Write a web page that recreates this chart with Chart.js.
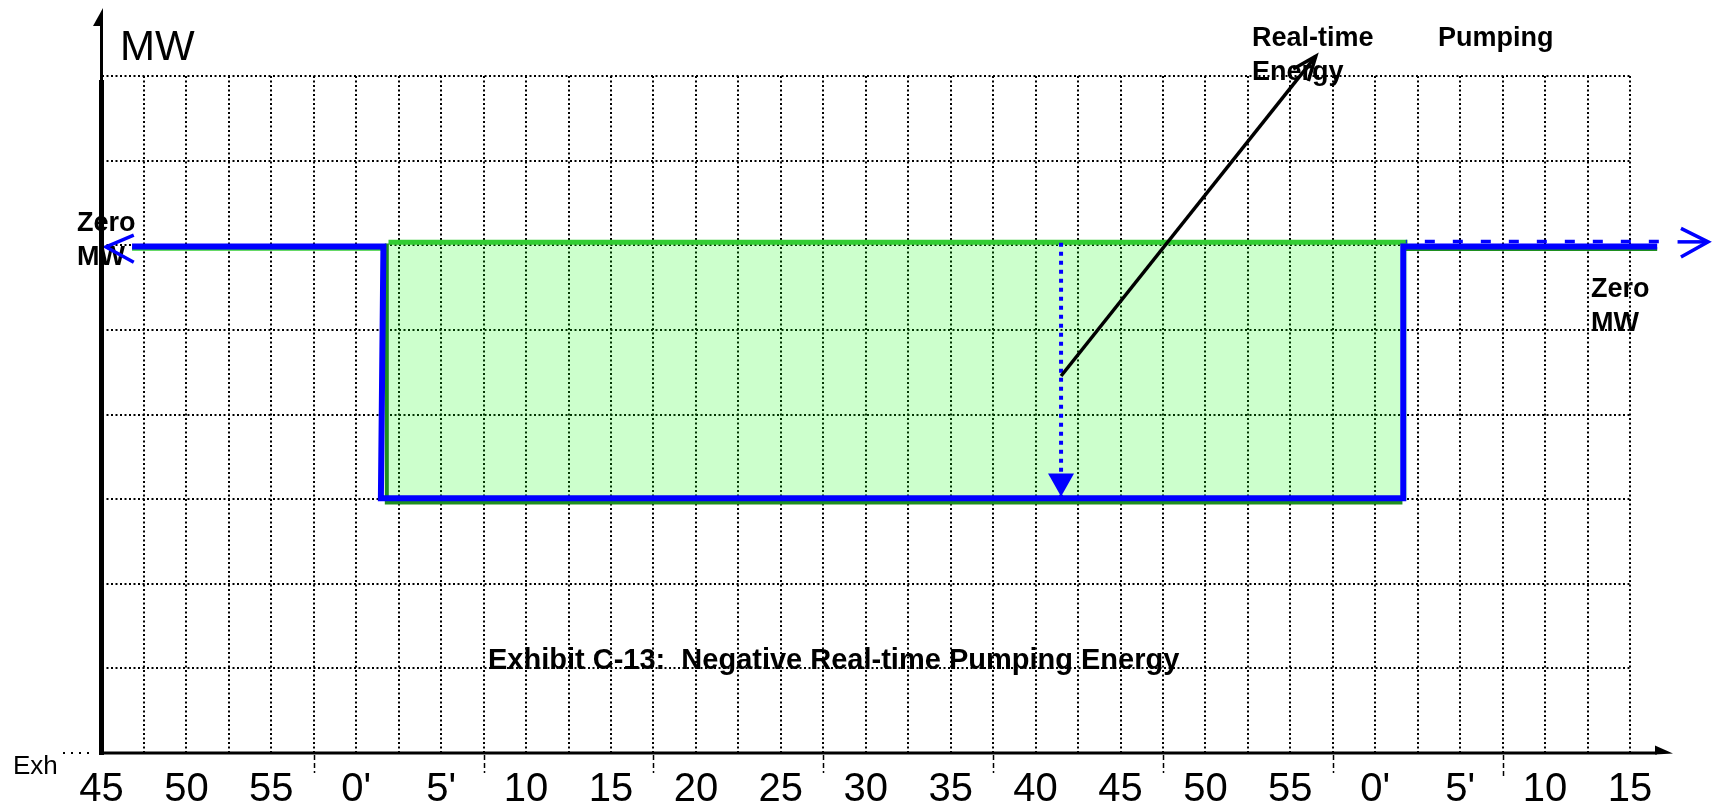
<!DOCTYPE html>
<html>
<head>
<meta charset="utf-8">
<script src="https://cdn.jsdelivr.net/npm/chart.js@4.4.1/dist/chart.umd.min.js"></script>
<style>
  html, body { margin: 0; padding: 0; background: #fff; }
  #wrap { width: 1713px; height: 809px; position: relative; }
</style>
</head>
<body>
<div id="wrap"><canvas id="myChart"></canvas></div>
<script>
// x = minutes from the first label (45), one grid column = 2.5 min
// y = MW in steps of 10 per grid row, zero MW at 0
const timeLabels = ['45', '50', '55', "0'", "5'", '10', '15', '20', '25', '30', '35', '40', '45', '50', '55', "0'", "5'", '10', '15'];
const hourTicks = [12.5, 22.5, 32.5, 42.5, 52.5, 62.5, 72.5, 82.5];

// blue MW line (zero -> pumping -> zero)
const blueX = [1.8, 16.6, 16.45, 76.65, 76.65, 91.6];
const blueY = [-0.15, -0.15, -29.9, -29.9, -0.15, -0.15];
// dashed blue continuation on the right
const blueDashX = [76.8, 92.0];
const blueDashY = [0.45, 0.45];

// green pumping block
const greenTopX = [16.9, 76.9];
const greenTopY = [0.35, 0.35];
const greenFloor = -30.2;
const greenEdgeX = [16.8, 16.8, 76.6];
const greenEdgeY = [0.2, -30.4, -30.4];
const greenLeftX = [1.8, 16.6];
const greenLeftY = [-0.4, -0.4];
const greenRightX = [76.6, 91.6];
const greenRightY = [-0.45, -0.45];

// arrows
const leftArrowX = [1.9, 0.26, 1.9];
const leftArrowY = [1.2, -0.2, -2.0];
const rightArrowX = [93.0, 94.6, 93.0];
const rightArrowY = [2.0, 0.4, -1.4];
const rightShaftX = [92.8, 94.4];
const rightShaftY = [0.4, 0.4];
const dropX = [56.5, 56.5];
const dropY = [0.3, -29.7];
const pointerX = [56.5, 71.5];
const pointerY = [-15.45, 22.35];

const BLUE = '#0000ff';
const GREEN = '#33cc33';
const DARKGREEN = '#1f8f1f';
const FONT = '"Liberation Sans", Arial, sans-serif';

function pts(xs, ys) {
  return xs.map((x, i) => ({ x: x, y: ys[i] }));
}

function lineSet(data, color, width, order, extra) {
  return Object.assign({
    data: data,
    borderColor: color,
    borderWidth: width,
    pointRadius: 0,
    tension: 0,
    fill: false,
    clip: false,
    order: order,
    borderJoinStyle: 'miter'
  }, extra || {});
}

const extras = {
  id: 'extras',
  beforeDatasetsDraw(chart) {
    const ctx = chart.ctx;
    ctx.save();
    ctx.fillStyle = '#000';
    ctx.textBaseline = 'alphabetic';
    ctx.font = '42px ' + FONT;
    ctx.fillText('MW', 120, 60);
    ctx.font = 'bold 27px ' + FONT;
    ctx.fillText('Zero', 77, 231);
    ctx.fillText('MW', 77, 265);
    ctx.fillText('Zero', 1591, 297);
    ctx.fillText('MW', 1591, 331);
    ctx.fillText('Real-time', 1252, 46);
    ctx.fillText('Energy', 1252, 80);
    ctx.fillText('Pumping', 1438, 46);
    ctx.font = 'bold 29px ' + FONT;
    ctx.fillText('Exhibit C-13:  Negative Real-time Pumping Energy', 488, 669);
    ctx.font = '26px ' + FONT;
    ctx.fillText('Exh', 13, 774);
    ctx.strokeStyle = '#000';
    ctx.lineWidth = 2;
    ctx.setLineDash([2, 6]);
    ctx.beginPath();
    ctx.moveTo(63, 753);
    ctx.lineTo(93, 753);
    ctx.stroke();
    ctx.restore();
  },
  afterDatasetsDraw(chart) {
    const ctx = chart.ctx;
    const xs = chart.scales.x, ys = chart.scales.y;

    // arrow heads at the end of flagged datasets
    chart.data.datasets.forEach((ds, i) => {
      if (!ds.arrowHead) return;
      const el = chart.getDatasetMeta(i).data;
      const p0 = el[el.length - 2], p1 = el[el.length - 1];
      const ang = Math.atan2(p1.y - p0.y, p1.x - p0.x);
      ctx.save();
      ctx.strokeStyle = ds.borderColor;
      ctx.fillStyle = ds.borderColor;
      if (ds.arrowHead === 'filled') {
        const len = 23, half = 13;
        const bx = p1.x - Math.cos(ang) * len, by = p1.y - Math.sin(ang) * len;
        ctx.beginPath();
        ctx.moveTo(p1.x, p1.y);
        ctx.lineTo(bx + Math.sin(ang) * half, by - Math.cos(ang) * half);
        ctx.lineTo(bx - Math.sin(ang) * half, by + Math.cos(ang) * half);
        ctx.closePath();
        ctx.fill();
      } else {
        const len = 26, spread = 0.38;
        ctx.lineWidth = ds.borderWidth;
        ctx.beginPath();
        ctx.moveTo(p1.x - Math.cos(ang - spread) * len, p1.y - Math.sin(ang - spread) * len);
        ctx.lineTo(p1.x, p1.y);
        ctx.lineTo(p1.x - Math.cos(ang + spread) * len, p1.y - Math.sin(ang + spread) * len);
        ctx.stroke();
      }
      ctx.restore();
    });

    // axes
    const x0 = xs.getPixelForValue(0);
    const yb = ys.getPixelForValue(-60);
    const yt = ys.getPixelForValue(20);
    ctx.save();
    ctx.strokeStyle = '#000';
    ctx.fillStyle = '#000';
    ctx.lineWidth = 5;
    ctx.beginPath();
    ctx.moveTo(x0, yb + 2);
    ctx.lineTo(x0, yt + 4);
    ctx.stroke();
    ctx.lineWidth = 3;
    ctx.beginPath();
    ctx.moveTo(x0, yt + 4);
    ctx.lineTo(x0, 24);
    ctx.stroke();
    ctx.beginPath();
    ctx.moveTo(x0 + 1.5, 8);
    ctx.lineTo(x0 - 8.5, 26);
    ctx.lineTo(x0 + 1.5, 26);
    ctx.closePath();
    ctx.fill();

    const xEnd = xs.right + 43;
    ctx.lineWidth = 3;
    ctx.beginPath();
    ctx.moveTo(x0 - 2, yb);
    ctx.lineTo(xEnd - 16, yb);
    ctx.stroke();
    ctx.beginPath();
    ctx.moveTo(xEnd - 18, yb - 7.5);
    ctx.lineTo(xEnd, yb + 0.5);
    ctx.lineTo(xEnd - 18, yb + 1.5);
    ctx.closePath();
    ctx.fill();

    // small dashed hour marks under the axis
    ctx.lineWidth = 1.5;
    ctx.setLineDash([5, 3]);
    hourTicks.forEach((v, i) => {
      const px = Math.round(xs.getPixelForValue(v)) + 0.5;
      ctx.beginPath();
      ctx.moveTo(px, yb + 2);
      ctx.lineTo(px, yb + (i === hourTicks.length - 1 ? 25 : 20));
      ctx.stroke();
    });
    ctx.restore();
  }
};

const ctx = document.getElementById('myChart').getContext('2d');
const myChart = new Chart(ctx, {
  type: 'line',
  data: {
    datasets: [
      lineSet(pts(greenTopX, greenTopY), GREEN, 5, 20, { fill: { value: greenFloor }, backgroundColor: 'rgba(0, 255, 0, 0.2)' }),
      lineSet(pts(greenEdgeX, greenEdgeY), DARKGREEN, 4, 19),
      lineSet(pts(greenLeftX, greenLeftY), GREEN, 4, 18),
      lineSet(pts(greenRightX, greenRightY), DARKGREEN, 4, 18),
      lineSet(pts(blueX, blueY), BLUE, 6, 10),
      lineSet(pts(blueDashX, blueDashY), BLUE, 3.5, 9, { borderDash: [10, 18], borderDashOffset: 9 }),
      lineSet(pts(leftArrowX, leftArrowY), BLUE, 3.5, 8),
      lineSet(pts(rightArrowX, rightArrowY), BLUE, 3.5, 8),
      lineSet(pts(rightShaftX, rightShaftY), BLUE, 3.5, 8),
      lineSet(pts(dropX, dropY), BLUE, 4, 6, { borderDash: [4, 5], arrowHead: 'filled' }),
      lineSet(pts(pointerX, pointerY), '#000', 3.5, 5, { arrowHead: 'open' })
    ]
  },
  options: {
    responsive: true,
    maintainAspectRatio: false,
    animation: false,
    events: [],
    layout: { padding: { left: 101.5, top: 76, right: 83, bottom: 0 } },
    plugins: {
      legend: { display: false },
      tooltip: { enabled: false },
      title: { display: false }
    },
    scales: {
      x: {
        type: 'linear',
        min: 0,
        max: 90,
        afterFit: function (scale) { scale.height = 56; },
        grid: { color: '#000', lineWidth: 2, drawTicks: false },
        border: { display: false, dash: [2, 2.5] },
        ticks: {
          stepSize: 2.5,
          autoSkip: false,
          maxRotation: 0,
          minRotation: 0,
          padding: 18,
          color: '#000',
          font: { family: FONT, size: 40, lineHeight: 0.95 },
          callback: function (value) {
            return value % 5 === 0 ? timeLabels[value / 5] : '';
          }
        }
      },
      y: {
        type: 'linear',
        min: -60,
        max: 20,
        grid: { color: '#000', lineWidth: 2, drawTicks: false },
        border: { display: false, dash: [2, 2.5] },
        ticks: { display: false, stepSize: 10 }
      }
    }
  },
  plugins: [extras]
});
</script>
</body>
</html>
